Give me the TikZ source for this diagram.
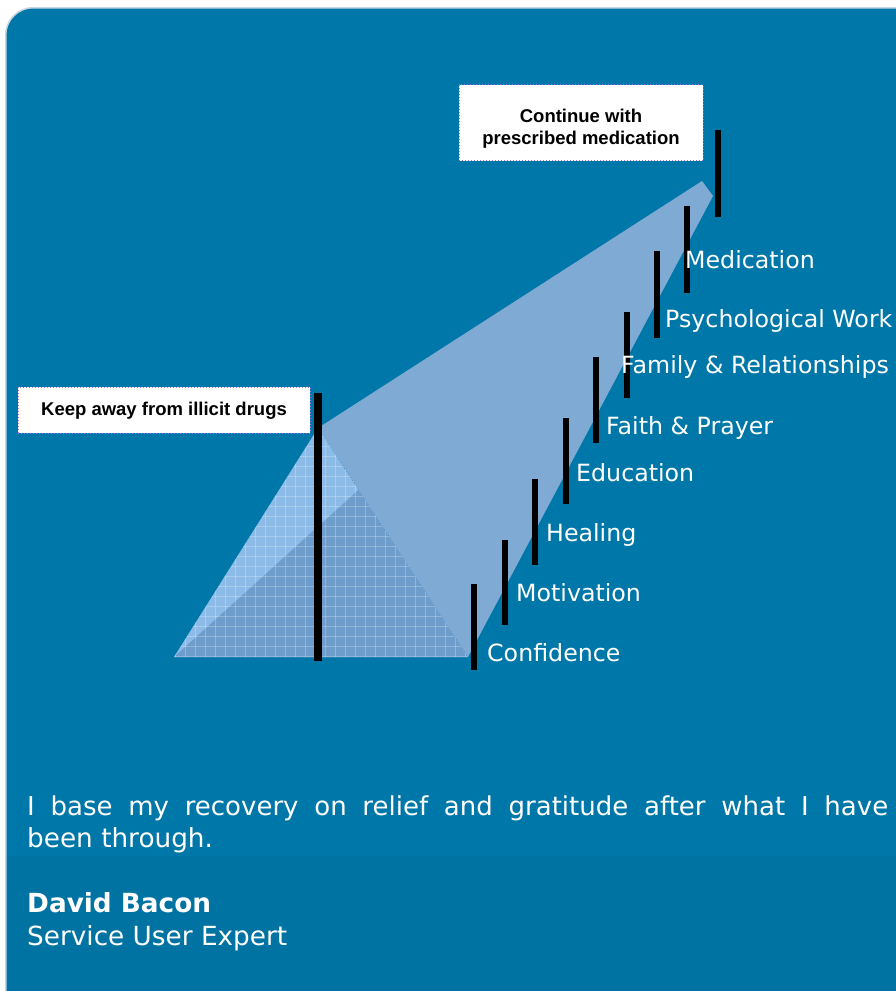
\documentclass[tikz,border=0pt]{standalone}
\usepackage{fontspec}
\usetikzlibrary{calc}
\newfontfamily\dv{DejaVu Sans}
\newfontfamily\lib{Liberation Sans}
\definecolor{bgblue}{HTML}{0077A9}
\definecolor{bgblue2}{HTML}{0073A3}
\definecolor{polyblue}{HTML}{7FAAD4}
\definecolor{trilight}{HTML}{8DBBE8}
\definecolor{tridark}{HTML}{6E9DCB}
\definecolor{edgegray}{HTML}{C4D6E2}
\definecolor{dotborder}{HTML}{A070F0}
\begin{document}
\begin{tikzpicture}[x=1pt,y=-1pt,
  lbl/.style={anchor=base west, inner sep=0pt, text=white, font=\dv\fontsize{23.7}{28}\selectfont},
  quote/.style={anchor=base west, inner sep=0pt, text=white, font=\dv\fontsize{26.3}{32}\selectfont},
  bar/.style={line width=6pt, black},
  bigbar/.style={line width=8pt, black},
  gridline/.style={white, opacity=0.25, line width=0.7pt},
  callout/.style={draw=dotborder, dotted, fill=white, line width=1pt, inner sep=0pt},
  callouttext/.style={align=center, inner sep=0pt, font=\lib\bfseries\fontsize{18.5}{22}\selectfont, text=black}]
\useasboundingbox (0,0) rectangle (896,991);
\fill[white] (0,0) rectangle (896,991);
% background panel
\begin{scope}
\clip (0,0) rectangle (896,991);
\fill[edgegray, rounded corners=28pt] (5,7) rectangle (960,1040);
\fill[bgblue, rounded corners=27pt] (6.5,8.5) rectangle (960,1040);
\fill[bgblue2] (6.5,856) rectangle (960,1040);
\end{scope}
% key points
\coordinate (A) at (318,428);
\coordinate (L) at (174,657);
\coordinate (R) at (468,657);
\coordinate (M) at ($(A)!0.27!(R)$);
\coordinate (T1) at (702,181);
\coordinate (T2) at (713,196);
% big light polygon
\fill[polyblue] (A) -- (T1) -- (T2) -- (R) -- cycle;
% pyramid
\begin{scope}
\clip (L) -- (A) -- (R) -- cycle;
\fill[trilight] (L) -- (A) -- (R) -- cycle;
\fill[tridark] (L) -- (M) -- (R) -- cycle;
\foreach \x in {175,185,...,475} \draw[gridline] (\x,420) -- (\x,660);
\foreach \y in {656,646,...,426} \draw[gridline] (170,\y) -- (470,\y);
\end{scope}
% bars
\draw[bigbar] (318,393) -- (318,661);
\draw[bar] (474,584) -- (474,670);
\draw[bar] (505,540) -- (505,625);
\draw[bar] (535,479) -- (535,565);
\draw[bar] (566,418) -- (566,504);
\draw[bar] (596,357) -- (596,443);
\draw[bar] (627,312) -- (627,398);
\draw[bar] (657,251) -- (657,338);
\draw[bar] (687,206) -- (687,293);
\draw[bar] (718,130) -- (718,217);
% labels
\node[lbl] (conf) at (487,661) {Confidence};
\node[lbl] (moti) at (516,601) {Motivation};
\node[lbl] (heal) at (546,541) {Healing};
\node[lbl] (educ) at (576,481) {Education};
\node[lbl] (faith) at (606,434) {Faith \& Prayer};
\node[lbl] (fam) at (621,373) {Family \& Relationships};
\node[lbl] (psy) at (665,327) {Psychological Work};
\node[lbl] (med) at (685,268) {Medication};
% callouts
\node[callout, minimum width=244pt, minimum height=76pt] (cont) at (581,122.5) {};
\node[callouttext] (conttext) at ([yshift=-6pt]cont.center) {Continue with\\prescribed medication};
\node[callout, minimum width=292pt, minimum height=46pt] (keep) at (164,410) {};
\node[callouttext] (keeptext) at ([yshift=-1pt]keep.center) {Keep away from illicit drugs};
% quote
\node[quote, font=\dv\fontsize{26}{32}\selectfont] (q1) at (27,815) {\makebox[861pt][s]{I base my recovery on relief and gratitude after what I have}};
\node[quote] (q2) at (27,847) {been through.};
\node[quote] (who) at (27,912) {\bfseries David Bacon};
\node[quote] (role) at (27,945) {Service User Expert};
\end{tikzpicture}
\end{document}
